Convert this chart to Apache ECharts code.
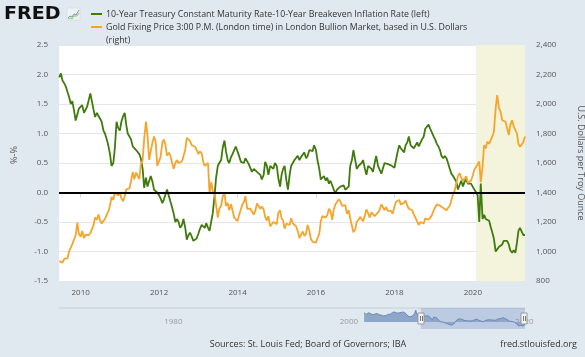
<!DOCTYPE html>
<html><head><meta charset="utf-8">
<script src="https://cdn.jsdelivr.net/npm/echarts@6/dist/echarts.min.js"></script>
<style>html,body{margin:0;padding:0;background:#e1e9f0}#c{width:585px;height:357px}</style>
</head><body><div id="c"></div>
<script>
// ---- data (semi-monthly observations: 1st and 15th, starting 2009-06-15) ----
const seriesNames = [
  '10-Year Treasury Constant Maturity Rate-10-Year Breakeven Inflation Rate (left)',
  'Gold Fixing Price 3:00 P.M. (London time) in London Bullion Market, based in U.S. Dollars',
  '(right)'
];
const realRate = [
  1.95,2.02,1.90,1.85,1.80,1.70,1.62,1.50,1.55,1.38,1.22,1.25,1.42,
  1.45,1.48,1.35,1.32,1.45,1.55, 1.68,1.55,1.40,1.28,1.35,1.30, 1.25,1.20,1.05,1.00,0.90,0.80, 0.65,0.45,0.50,0.75,1.20,1.10,
  1.05,1.20,1.30,1.35,1.15,1.00, 0.98,0.90,0.78,0.80,0.72,0.73, 0.65,0.58,0.40,0.08,0.25,0.10, 0.12,0.28,0.18,0.05,0.08,0.00,
  -0.05,-0.10,-0.18,-0.12,-0.10,0.05, 0.08,-0.15,-0.25,-0.35,-0.50,-0.45, -0.50,-0.60,-0.55,-0.45,-0.60,-0.80, -0.72,-0.68,-0.75,-0.82,-0.85,-0.78,
  -0.70,-0.62,-0.55,-0.58,-0.60,-0.52, -0.60,-0.65,-0.68,-0.35,-0.05,0.25, 0.45,0.50,0.55,0.75,0.88,0.70, 0.55,0.50,0.60,0.65,0.72,0.78,
  0.78,0.62,0.52,0.55,0.50,0.58, 0.55,0.48,0.45,0.35,0.40,0.42, 0.35,0.32,0.30,0.22,0.30,0.52, 0.45,0.30,0.45,0.42,0.40,0.50,
  0.45,0.25,0.10,0.30,0.40,0.45, 0.20,0.05,0.30,0.45,0.48,0.55, 0.55,0.62,0.55,0.60,0.62,0.68, 0.58,0.62,0.72,0.75,0.70,0.80,
  0.72,0.55,0.40,0.22,0.25,0.28, 0.20,0.25,0.15,0.20,0.18,0.05, -0.02,0.05,0.05,0.10,0.08,0.12, 0.05,0.02,0.10,0.45,0.55,0.72,
  0.55,0.40,0.45,0.42,0.50,0.55, 0.40,0.30,0.45,0.48,0.40,0.35, 0.50,0.62,0.45,0.42,0.32,0.35, 0.50,0.52,0.48,0.50,0.46,0.45,
  0.42,0.55,0.70,0.80,0.75,0.72, 0.68,0.80,0.85,0.95,0.80,0.78, 0.75,0.78,0.85,0.78,0.80,0.90, 0.95,1.08,1.10,1.15,1.08,1.05,
  0.95,0.90,0.82,0.78,0.72,0.62, 0.58,0.62,0.58,0.50,0.40,0.32, 0.28,0.30,0.18,0.05,0.02,0.20, 0.10,0.18,0.22,0.15,0.12,0.15,
  0.12,0.05,0.00,-0.05,-0.50,0.15, -0.45,-0.38,-0.45,-0.42,-0.48,-0.58, -0.68,-0.78,-1.00,-0.98,-0.92,-0.95, -0.88,-0.82,-0.85,-0.82,-0.88,-0.98,
  -1.02,-0.98,-1.02,-0.85,-0.65,-0.60,-0.62,-0.72,-0.72
];
const goldPrice = [
  935,930,925,950,945,955,1000,1000,1050,1045,1110,1195,1120,
  1100,1140,1090,1115,1120,1110, 1125,1150,1180,1230,1215,1250, 1210,1190,1185,1220,1250,1270, 1310,1370,1350,1400,1390,1380,
  1400,1360,1340,1375,1420,1410, 1430,1480,1540,1490,1535,1525, 1490,1590,1620,1760,1880,1790, 1620,1680,1740,1780,1740,1580,
  1590,1640,1740,1760,1720,1650, 1670,1650,1660,1560,1600,1620, 1600,1590,1610,1615,1690,1770, 1775,1750,1720,1725,1710,1690,
  1660,1680,1665,1610,1580,1590, 1600,1390,1470,1410,1390,1380, 1230,1290,1310,1370,1400,1310, 1330,1280,1320,1280,1230,1225,
  1205,1245,1255,1320,1335,1375, 1290,1300,1290,1295,1250,1275, 1325,1310,1290,1305,1285,1235, 1210,1240,1170,1185,1200,1195,
  1185,1260,1280,1225,1210,1155, 1190,1200,1180,1225,1190,1180, 1170,1140,1090,1115,1135,1105, 1120,1180,1140,1085,1065,1060,
  1060,1090,1120,1205,1240,1235, 1230,1245,1290,1275,1215,1285, 1320,1335,1355,1340,1310,1315, 1315,1255,1280,1225,1175,1130,
  1150,1200,1215,1235,1245,1205, 1245,1285,1260,1230,1265,1255, 1240,1230,1265,1280,1320,1325, 1280,1300,1275,1280,1275,1255,
  1305,1335,1345,1350,1318,1320, 1330,1345,1310,1290,1300,1280, 1250,1230,1225,1180,1200,1200, 1190,1225,1235,1215,1225,1245,
  1280,1290,1320,1315,1310,1300, 1295,1285,1280,1295,1310,1345, 1390,1410,1420,1510,1530,1500, 1480,1490,1510,1465,1465,1480,
  1515,1555,1575,1585,1610,1470, 1580,1720,1700,1745,1730,1725, 1780,1810,1970,2060,1970,1950, 1890,1900,1880,1885,1790,1860,
  1890,1850,1860,1800,1730,1710,1700,1740,1780
];
// navigator: earlier history of the left series (2003 - mid 2009)
const navEarlyDates = ['2003-01-02','2003-04-01','2003-07-01','2003-10-01','2004-01-01','2004-04-01','2004-07-01','2004-10-01',
  '2005-01-01','2005-04-01','2005-07-01','2005-10-01','2006-01-01','2006-04-01','2006-07-01','2006-10-01',
  '2007-01-01','2007-04-01','2007-07-01','2007-10-01','2008-01-01','2008-04-01','2008-07-01','2008-10-01','2008-11-20',
  '2009-01-01','2009-04-01'];
const navEarlyValues = [2.3,1.9,2.3,2.1,1.8,2.0,2.1,1.8,1.7,1.5,1.6,1.9,2.0,2.4,2.5,2.2,2.3,2.4,2.5,2.1,1.5,1.3,1.5,2.1,3.0,1.9,1.6];
const xTickYears = [2010,2012,2014,2016,2018,2020];
const navTickYears = [1980,2000,2020];
const viewRange = ['2009-06-13','2021-05-01'];
const navRange = ['1968-04-01','2021-05-01'];
const recession = ['2020-02-01','2021-05-01'];
const sourcesText = 'Sources: St. Louis Fed; Board of Governors; IBA';
const siteText = 'fred.stlouisfed.org';

// ---- helpers ----
function halfMonthDate(i){
  const k = 11 + i, y = 2009 + Math.floor(k/24), r = k % 24;
  const m = Math.floor(r/2) + 1, d = (r % 2) ? 15 : 1;
  return y + '-' + String(m).padStart(2,'0') + '-' + String(d).padStart(2,'0');
}
function ts(s){ const p = s.split('-').map(Number); return new Date(p[0], p[1]-1, p[2]).getTime(); }
const dates = realRate.map((_, i) => ts(halfMonthDate(i)));
const realData = realRate.map((v, i) => [dates[i], v]);
const goldData = goldPrice.map((v, i) => [dates[i], v]);
const navData = navEarlyDates.map((d, i) => [ts(d), navEarlyValues[i]]).concat(realData);
const xTicks = xTickYears.map(y => new Date(y,0,1).getTime());
const navTicks = navTickYears.map(y => new Date(y,0,1).getTime());
const yearOf = v => String(new Date(v + 86400000).getFullYear());

const green = '#3f7a0c', orange = '#f5a52b';
const FONT = 'Open Sans';

const chart = echarts.init(document.getElementById('c'), null, {renderer:'canvas', width:585, height:357});
const option = {
  backgroundColor: '#e1e9f0',
  animation: false,
  textStyle: {fontFamily: FONT},
  grid: [
    {left:59, right:60, top:45, bottom:76, show:true, backgroundColor:'#ffffff', borderWidth:0, outerBoundsMode:'none', containLabel:false},
    {left:59, right:60, top:308, height:21, show:false, outerBoundsMode:'none', containLabel:false}
  ],
  xAxis: [
    {type:'value', gridIndex:0, min:ts(viewRange[0]), max:ts(viewRange[1]),
     axisLine:{show:false},
     axisTick:{show:true, length:5, customValues:xTicks, lineStyle:{color:'#ccd6eb'}},
     axisLabel:{customValues:xTicks, formatter:yearOf, color:'#555', fontSize:8, margin:8, fontFamily:FONT},
     splitLine:{show:false}},
    {type:'value', gridIndex:1, min:ts(navRange[0]), max:ts(navRange[1]),
     axisLine:{show:false}, axisTick:{show:false},
     axisLabel:{inside:true, customValues:navTicks, formatter:yearOf,
                color:'#999', fontSize:8, margin:3, align:'left', padding:[0,0,0,2], fontFamily:FONT},
     splitLine:{show:false}}
  ],
  yAxis: [
    {type:'value', gridIndex:0, min:-1.5, max:2.5, interval:0.5, position:'left',
     axisLine:{show:false}, axisTick:{show:false},
     axisLabel:{formatter:v => v.toFixed(1), color:'#555', fontSize:8, margin:11, fontFamily:FONT},
     splitLine:{show:true, lineStyle:{color:'#e6e6e6', width:1}}},
    {type:'value', gridIndex:0, min:800, max:2400, interval:200, position:'right',
     axisLine:{show:false}, axisTick:{show:false},
     axisLabel:{formatter:v => v.toLocaleString('en-US'), color:'#555', fontSize:8, margin:11, fontFamily:FONT},
     splitLine:{show:false},
     name:'U.S. Dollars per Troy Ounce', nameLocation:'middle', nameRotate:-90, nameGap:51,
     nameTextStyle:{color:'#555', fontSize:9, fontFamily:FONT}},
    {type:'value', gridIndex:1, min:-1.75, max:3.5, show:false}
  ],
  series: [
    {name:seriesNames[0], type:'line', xAxisIndex:0, yAxisIndex:0, data:realData, showSymbol:false,
     lineStyle:{color:green, width:1.8}, itemStyle:{color:green}, z:3,
     markArea:{silent:true, itemStyle:{color:'#f4f3dc'}, data:[[{xAxis:ts(recession[0])},{xAxis:ts(recession[1])}]]},
     markLine:{silent:true, symbol:'none', label:{show:false}, lineStyle:{color:'#000', width:2, type:'solid'}, data:[{yAxis:0}]}},
    {name:seriesNames[1], type:'line', xAxisIndex:0, yAxisIndex:1, data:goldData, showSymbol:false,
     lineStyle:{color:orange, width:1.8}, itemStyle:{color:orange}, z:4},
    {type:'line', xAxisIndex:1, yAxisIndex:2, data:navData, showSymbol:false, silent:true,
     lineStyle:{color:'#6a88b8', width:1}, areaStyle:{color:'#8ea7c9', opacity:1},
     markArea:{silent:true, itemStyle:{color:'rgba(102,133,194,0.3)'}, data:[[{xAxis:ts(viewRange[0])},{xAxis:ts(viewRange[1])}]]}}
  ],
  graphic: [
    {type:'text', left:4, top:6, style:{text:'FRED', font:'bold 17px "DejaVu Sans"', fill:'#111'}, scaleX:1.12},
    {type:'rect', shape:{x:67, y:8, width:13, height:12}, style:{fill:'#eef2f5', stroke:'#cfd6dc', lineWidth:0.5}},
    {type:'polyline', shape:{points:[[68,18],[70,16],[72,17],[74,14],[76,15],[79,10]]}, style:{stroke:'#7494c0', lineWidth:1, fill:null}},
    {type:'polyline', shape:{points:[[68,19],[70,18],[72,19],[74,16],[77,16],[79,13]]}, style:{stroke:'#97c06a', lineWidth:1, fill:null}},
    {type:'line', shape:{x1:91, y1:14, x2:102, y2:14}, style:{stroke:green, lineWidth:2}},
    {type:'text', x:106, y:14, style:{text:seriesNames[0], font:'8.8px "Open Sans"', fill:'#333', verticalAlign:'middle'}},
    {type:'line', shape:{x1:91, y1:27, x2:102, y2:27}, style:{stroke:orange, lineWidth:2}},
    {type:'text', x:106, y:27, style:{text:seriesNames[1], font:'8.8px "Open Sans"', fill:'#333', verticalAlign:'middle'}},
    {type:'text', x:106, y:40, style:{text:seriesNames[2], font:'8.8px "Open Sans"', fill:'#333', verticalAlign:'middle'}},
    {type:'text', x:14, y:155, rotation:Math.PI/2, style:{text:'%-%', font:'9px "Open Sans"', fill:'#555', align:'center', verticalAlign:'middle'}},
    {type:'line', shape:{x1:59, y1:308, x2:525, y2:308}, style:{stroke:'#c6cfd8', lineWidth:1}},
    {type:'text', x:308, y:344, style:{text:sourcesText, font:'9px "Open Sans"', fill:'#333', align:'center', verticalAlign:'middle'}},
    {type:'text', x:577, y:344, style:{text:siteText, font:'9px "Open Sans"', fill:'#333', align:'right', verticalAlign:'middle'}}
  ]
};
chart.setOption(option);

// navigator handles at the selected range ends
const hx = viewRange.map(d => chart.convertToPixel({xAxisIndex:1}, ts(d)));
const handles = [];
hx.forEach((x, i) => {
  x = Math.round(x) + (i === 0 ? 0 : -1);
  handles.push({type:'rect', id:'h'+i, shape:{x:x-3, y:313, width:6, height:11}, style:{fill:'#f4f4f4', stroke:'#999', lineWidth:1}, z:100});
  handles.push({type:'line', id:'hl'+i, shape:{x1:x-0.5, y1:316, x2:x-0.5, y2:321}, style:{stroke:'#777', lineWidth:1}, z:101});
  handles.push({type:'line', id:'hr'+i, shape:{x1:x+1.5, y1:316, x2:x+1.5, y2:321}, style:{stroke:'#777', lineWidth:1}, z:101});
});
chart.setOption({graphic: option.graphic.concat(handles)});
</script>
</body></html>
